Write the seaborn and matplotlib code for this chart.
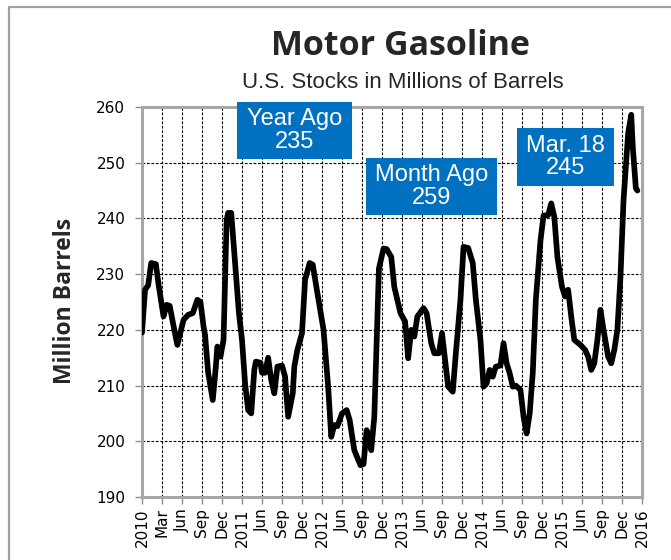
import numpy as np
import pandas as pd
import matplotlib
matplotlib.use("Agg")
import matplotlib.pyplot as plt
import seaborn as sns
from matplotlib.patches import Rectangle
from matplotlib.lines import Line2D

# weekly stocks (week 0 = start of 2010)
weeks = [0, 2, 4, 6, 9, 11, 14, 16, 18, 21, 23, 27, 30, 33, 36, 38, 40, 41,
         43, 46, 48, 49, 51, 53, 55, 56, 58, 61, 63, 65, 67, 69, 71, 73, 74,
         77, 78, 80, 82, 84, 86, 88, 91, 93, 95, 98, 99, 101, 104, 106, 109,
         111, 114, 118, 121, 123, 125, 127, 130, 133, 135, 138, 142, 144, 146,
         147, 149, 151, 154, 157, 159, 162, 164, 168, 171, 173, 175, 177, 179,
         183, 185, 188, 190, 193, 195, 197, 199, 202, 204, 207, 209, 212, 215,
         217, 220, 222, 224, 226, 228, 230, 233, 235, 237, 239, 241, 243, 246,
         248, 250, 252, 254, 256, 259, 261, 264, 266, 268, 270, 273, 275, 277,
         279, 281, 285, 288, 290, 292, 294, 296, 298, 300, 303, 305, 307, 309,
         311, 313, 316, 318, 319, 321, 322]
stocks = [219.5, 227.2, 228.0, 232.0, 231.8, 227.7, 222.4, 224.5, 224.3, 220.0,
          217.3, 221.8, 222.7, 223.0, 225.4, 225.0, 220.6, 219.1, 212.3, 207.4,
          213.4, 217.0, 215.2, 218.2, 239.7, 241.0, 241.0, 230.2, 223.0, 218.2,
          210.4, 205.6, 205.0, 212.8, 214.3, 214.1, 212.3, 212.3, 215.0, 211.0,
          208.6, 213.4, 213.6, 211.6, 204.4, 208.6, 213.4, 216.4, 219.4, 229.0,
          232.0, 231.7, 226.6, 220.0, 209.8, 200.8, 202.9, 202.7, 205.0, 205.6,
          203.8, 198.4, 195.7, 195.9, 202.0, 201.0, 198.4, 204.4, 231.0, 234.6,
          234.5, 233.1, 227.7, 223.0, 221.5, 214.9, 220.0, 218.8, 222.4, 223.9,
          223.0, 217.6, 215.8, 215.8, 219.4, 214.6, 209.8, 208.9, 215.8, 225.4,
          234.9, 234.7, 232.0, 225.4, 218.2, 209.8, 210.4, 212.8, 211.6, 213.4,
          213.6, 217.6, 214.0, 212.2, 209.8, 210.0, 209.2, 204.4, 201.4, 205.0,
          212.3, 225.4, 236.0, 240.5, 240.6, 242.7, 240.3, 233.1, 227.7, 226.0,
          227.2, 222.4, 218.2, 217.3, 216.4, 215.2, 212.8, 214.0, 218.2, 223.6,
          220.0, 215.2, 214.0, 216.4, 220.0, 229.5, 243.3, 255.3, 258.6, 252.9,
          245.4, 245.0]

tick_labels = ["2010", "Mar", "Jun", "Sep", "Dec", "2011", "Jun", "Sep", "Dec",
               "2012", "Jun", "Sep", "Dec", "2013", "Jun", "Sep", "Dec",
               "2014", "Jun", "Sep", "Dec", "2015", "Jun", "Sep", "Dec", "2016"]
box_texts = ["Year Ago\n235", "Month Ago\n259", "Mar. 18\n245"]

W, H = 671, 560


def fx(px):
    return px / W


def fy(py):
    return 1 - py / H


sns.set_style("white")
fig = plt.figure(figsize=(W / 100, H / 100), dpi=100)
ax = fig.add_axes([fx(142), fy(497), fx(642) - fx(142), fy(107) - fy(497)])

df = pd.DataFrame({"week": weeks, "stocks": stocks})
sns.lineplot(data=df, x="week", y="stocks", ax=ax, color="black", lw=4.1,
             solid_joinstyle="round", solid_capstyle="round", zorder=3)

ax.set_xlim(0, 325)
ax.set_ylim(190, 260)
ax.set_xticks(np.arange(0, 326, 13))
ax.set_xticklabels(tick_labels, rotation=90, fontsize=11, family="DejaVu Sans")
ax.set_yticks(range(190, 261, 10))
ax.set_yticklabels([str(v) for v in range(190, 261, 10)], fontsize=11,
                   family="DejaVu Sans")
ax.set_xlabel("")
ax.set_ylabel("")
ax.grid(True, color="black", linestyle=(0, (2.5, 1.5)), lw=0.8)
ax.set_axisbelow(True)
for s in ax.spines.values():
    s.set_visible(True)
    s.set_color("#a6a6a6")
    s.set_linewidth(2.2)
ax.tick_params(axis="both", direction="out", length=5, width=1,
               color="#8c8c8c", bottom=True, left=True, labelcolor="black")
ax.tick_params(axis="y", pad=7)
ax.tick_params(axis="x", pad=3)

# titles
fig.text(fx(401), fy(55), "Motor Gasoline", ha="center", va="baseline",
         fontsize=24.5, fontweight="bold", family="Open Sans")
fig.text(fx(403), fy(88), "U.S. Stocks in Millions of Barrels", ha="center",
         va="baseline", fontsize=16, family="Liberation Sans")
fig.text(fx(65), fy(301), "Million Barrels", ha="center", va="center",
         rotation=90, fontsize=16.5, fontweight="bold", family="Open Sans")

# callout boxes (pixel extents)
boxes = [(237, 102, 352, 159), (366, 158, 497, 215), (517, 128, 614, 186)]
for (x0, y0, x1, y1), txt in zip(boxes, box_texts):
    fig.patches.append(Rectangle((fx(x0), fy(y1)), fx(x1) - fx(x0),
                                 fy(y0) - fy(y1), transform=fig.transFigure,
                                 facecolor="#0070C0", edgecolor="none",
                                 zorder=5))
    fig.text(fx((x0 + x1) / 2), fy((y0 + y1) / 2), txt, ha="center",
             va="center", color="white", fontsize=17,
             family="Liberation Sans", linespacing=1.0, zorder=6)

# outer chart border
fig.lines.append(Line2D([fx(9), fx(9), fx(671)], [0, fy(7), fy(7)],
                        transform=fig.transFigure, color="#a0a0a0", lw=1.6))

fig.savefig("out.png", dpi=100)
